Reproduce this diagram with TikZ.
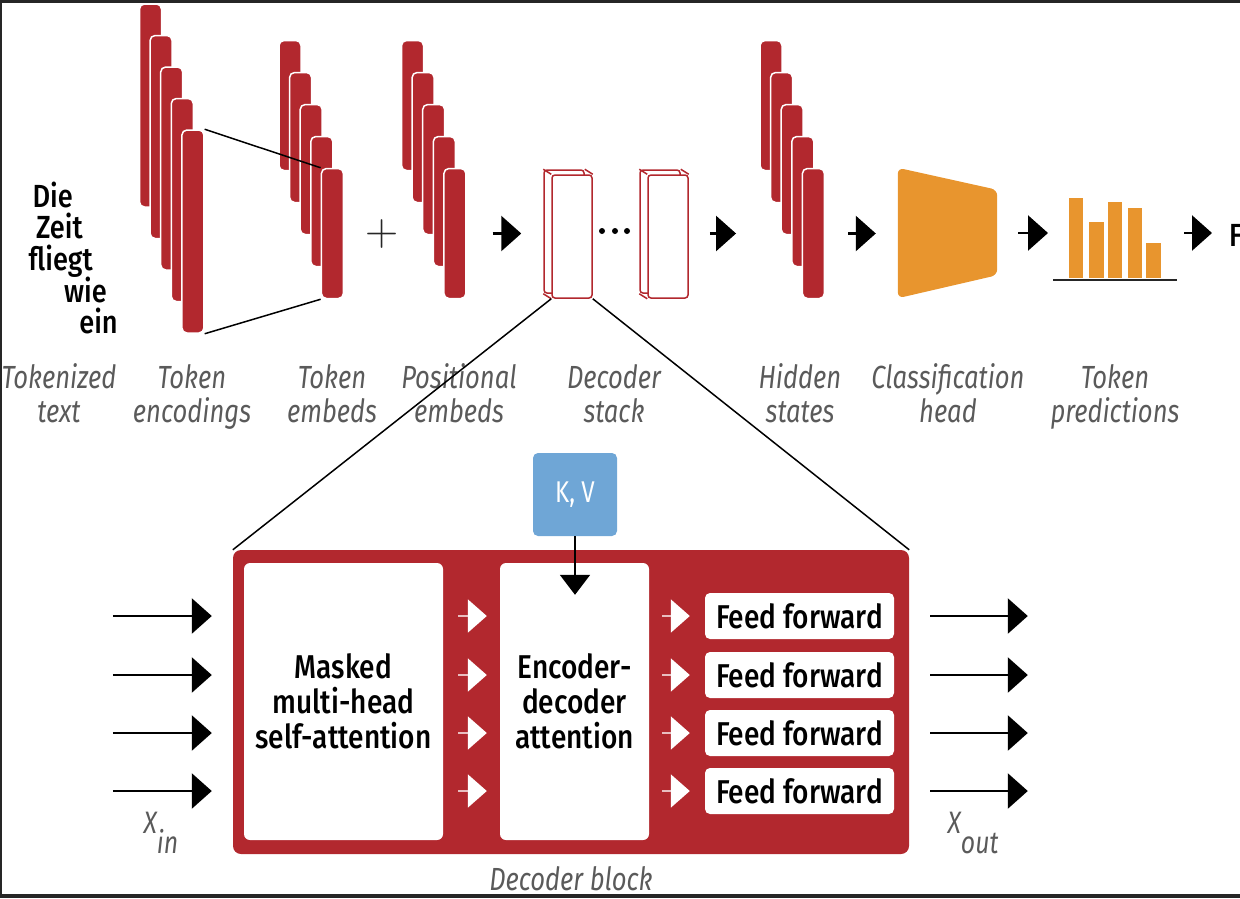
\documentclass[tikz,border=0pt]{standalone}
\usepackage{fontspec}
\setmainfont{Fira Sans}[FakeStretch=0.8]
\newfontfamily\medfont{Fira Sans Medium}[FakeStretch=0.85]
\newfontfamily\lmfont{Latin Modern Roman}
\usetikzlibrary{arrows.meta,positioning,calc}
\definecolor{barRed}{HTML}{B2282E}
\definecolor{headOrange}{HTML}{E8952E}
\definecolor{kvBlue}{HTML}{6FA6D6}
\definecolor{capGray}{HTML}{5A5A5A}
\definecolor{frameGray}{HTML}{262626}

\begin{document}
\begin{tikzpicture}[x=1pt,y=-1pt,
				tokenBar/.style={draw=white,line width=1.5pt,fill=barRed,rounded corners=5pt,minimum width=22pt,inner sep=0pt},
				stackBox/.style={draw=barRed,line width=1.5pt,fill=white,rounded corners=3pt,minimum width=40pt,minimum height=123pt,inner sep=0pt},
				predBar/.style={fill=headOrange,minimum width=14.5pt,inner sep=0pt,anchor=south},
				caption/.style={font=\fontsize{32}{34}\selectfont\itshape,text=capGray,align=center,inner sep=0pt,anchor=base},
				word/.style={font=\medfont\fontsize{32}{32}\selectfont,inner sep=0pt,anchor=base east},
				innerBox/.style={fill=white,rounded corners=6pt,inner sep=0pt,align=center,font=\medfont\fontsize{33}{35}\selectfont},
				bigArrow/.style={line width=2.5pt,-{Triangle[length=20pt,width=35pt]}},
				whiteArrow/.style={draw=white!70!barRed,line width=2pt,-{Triangle[length=19pt,width=33pt,color=white]}}]
			\useasboundingbox (0,0) rectangle (1240,898);

			\foreach \w/\x/\y in {Die/73/207,Zeit/83/238,fliegt/93/270,wie/107/302,ein/118/333}
				\node[word] (w\w) at (\x,\y) {\w};

			\foreach \i in {1,...,5}
				\node[tokenBar,minimum height=203pt] (enc\i) at ({150.5+10.6*(\i-1)},{105.5+31.5*(\i-1)}) {};
			\foreach \i in {1,...,5}{
					\node[tokenBar,minimum height=130pt] (emb\i) at ({290+10.6*(\i-1)},{105.5+32*(\i-1)}) {};
					\node[tokenBar,minimum height=130pt] (pos\i) at ({412.5+10.6*(\i-1)},{105.5+32*(\i-1)}) {};
					\node[tokenBar,minimum height=130pt] (hid\i) at ({771+10.6*(\i-1)},{105.5+32*(\i-1)}) {};
				}
			\draw[line width=1.5pt] (enc5.north east) -- (emb5.north west);
			\draw[line width=1.5pt] (enc5.south east) -- (emb5.south west);
			\node[text=frameGray,inner sep=0pt,font=\lmfont\fontsize{46}{46}\selectfont] (plus) at (382,234) {+};

			\node[stackBox] (dec1b) at (564,231.5) {};
			\node[stackBox] (dec1) at (572,236.5) {};
			\node[stackBox] (dec2b) at (660,231.5) {};
			\node[stackBox] (dec2) at (668,236.5) {};
			\foreach \d in {dec1,dec2}
				\foreach \c in {north west,north east,south west}
					\draw[barRed,line width=1.5pt] (\d b.\c) -- (\d.\c);
			\foreach \x in {602,615,627}
				\fill (\x,231) circle (3pt);

			\node[minimum width=99pt,minimum height=130pt,inner sep=0pt] (head) at (947.5,233) {};
			\fill[headOrange,rounded corners=6pt] (head.north west) -- ([yshift=-22pt]head.north east) -- ([yshift=23pt]head.south east) -- (head.south west) -- cycle;

			\foreach \x/\h [count=\i] in {1076/80,1096.5/56,1115/76,1135/70,1153.5/35}
				\node[predBar,minimum height=\h pt] (pred\i) at (\x,278) {};
			\coordinate (predL) at (1053,280);
			\coordinate (predR) at (1177,280);
			\draw[frameGray,line width=2pt] (predL) -- (predR);
			\node[word,anchor=base west] (nextTok) at (1229,246) {F};

			\draw[bigArrow,shorten <=26pt,shorten >=22pt] (pos5.east) -- (pos5.east -| dec1b.west);
			\draw[bigArrow,shorten <=21pt,shorten >=55pt] (dec2.east |- pos5.east) -- (hid4.west |- pos5.east);
			\draw[bigArrow,shorten <=23pt,shorten >=22pt] (hid5.east) -- (hid5.east -| head.west);
			\draw[bigArrow,shorten <=21pt,shorten >=5pt] (head.east) -- (head.east -| predL);
			\draw[bigArrow,shorten <=7pt,shorten >=17pt] (predR |- head.east) -- (nextTok.west |- head.east);

			\node[caption] (capText) at (59,422) {Tokenized\\text};
			\node[caption] (capEnc) at (192,422) {Token\\encodings};
			\node[caption] (capEmb) at (332,422) {Token\\embeds};
			\node[caption] (capPos) at (459,422) {Positional\\embeds};
			\node[caption] (capStack) at (614,422) {Decoder\\stack};
			\node[caption] (capHid) at (800,422) {Hidden\\states};
			\node[caption] (capHead) at (948,422) {Classification\\head};
			\node[caption] (capPred) at (1115,422) {Token\\predictions};

			\node[fill=barRed,rounded corners=8pt,minimum width=676pt,minimum height=304pt,inner sep=0pt] (block) at (571,702) {};
			\draw[line width=1.5pt] (dec1.south west) -- (block.north west);
			\draw[line width=1.5pt] (dec1.south east) -- (block.north east);
			\node[innerBox,minimum width=199pt,minimum height=277pt] (mhsa) at (343.5,701.5) {Masked\\multi-head\\self-attention};
			\node[innerBox,minimum width=149pt,minimum height=277pt] (encdec) at (574.5,701.5) {Encoder-\\decoder\\attention};
			\foreach \y [count=\i] in {616,675,733,791}
				\node[innerBox,minimum width=189pt,minimum height=46pt,rounded corners=5pt] (ff\i) at (799.5,\y) {Feed forward};

			\node[fill=kvBlue,rounded corners=5pt,minimum width=84pt,minimum height=83pt,inner sep=0pt,text=white,font=\fontsize{30}{30}\selectfont] (kv) at (575,494.5) {K, V};
			\draw[line width=2pt,-{Triangle[length=20pt,width=30pt]}] (kv.south) -- ($(encdec.north -| kv.south)+(0,32)$);

			\foreach \i in {1,...,4}{
					\path (ff\i.west) ++(-592,0) coordinate (in\i);
					\path (ff\i.west) ++(323,0) coordinate (out\i);
					\draw[bigArrow,shorten >=21pt] (in\i) -- (block.west |- ff\i.west);
					\draw[whiteArrow,shorten <=15pt,shorten >=13pt] (mhsa.east |- ff\i.west) -- (encdec.west |- ff\i.west);
					\draw[whiteArrow,shorten <=13pt,shorten >=15pt] (encdec.east |- ff\i.west) -- (ff\i.west);
					\draw[bigArrow,shorten <=21pt] (block.east |- ff\i.east) -- (out\i);
				}

			\node[caption,font=\fontsize{31}{34}\selectfont\itshape] (xIn) at (161,833) {X\raisebox{-20pt}{in}};
			\node[caption,font=\fontsize{31}{34}\selectfont\itshape] (xOut) at (973,833) {X\raisebox{-20pt}{out}};
			\node[caption] (capBlock) at (571,890) {Decoder block};

			\fill[frameGray] (0,0) rectangle (1240,3);
			\fill[frameGray] (0,0) rectangle (2,898);
			\fill[frameGray] (0,894) rectangle (1240,898);
		\end{tikzpicture}
\end{document}
